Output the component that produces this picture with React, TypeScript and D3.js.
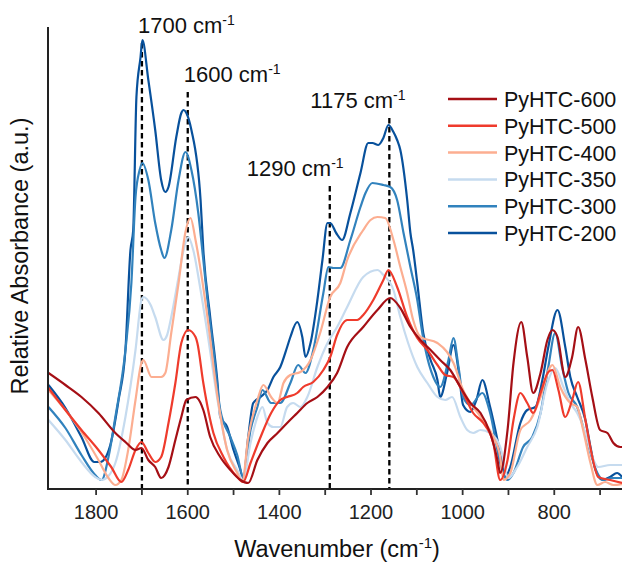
import React from 'react';
import * as d3 from 'd3';

const WIDTH = 622;
const HEIGHT = 562;

// [wavenumber (cm-1), relative absorbance (a.u.)]
const pyhtc600: [number, number][] = [
  [1904,1.16],[1867,1.04],[1832,0.92],[1795,0.76],[1758,0.56],[1736,0.47],[1714,0.39],[1701,0.41],
  [1686,0.29],[1671,0.22],[1658,0.11],[1642,0.22],[1627,0.49],[1614,0.72],[1603,0.89],[1583,0.92],
  [1579,0.91],[1566,0.79],[1551,0.52],[1529,0.32],[1507,0.19],[1485,0.09],[1468,0.06],[1448,0.29],
  [1426,0.46],[1404,0.56],[1383,0.66],[1361,0.76],[1339,0.86],[1317,0.92],[1295,1.02],[1274,1.16],
  [1252,1.42],[1217,1.62],[1186,1.79],[1158,1.91],[1136,1.81],[1114,1.62],[1092,1.49],[1070,1.39],
  [1049,1.29],[1027,1.19],[1005,1.02],[983,0.86],[961,0.76],[940,0.56],[924,0.29],[918,0.16],
  [902,0.59],[889,1.26],[872,1.67],[859,1.32],[846,0.96],[830,1.16],[815,1.49],[804,1.59],
  [793,1.52],[776,1.12],[761,1.32],[748,1.62],[732,1.29],[717,0.92],[700,0.59],[684,0.56],
  [671,0.46],[656,0.42],[652,0.42],
];

const pyhtc500: [number, number][] = [
  [1904,1.01],[1867,0.79],[1832,0.59],[1795,0.39],[1767,0.22],[1745,0.07],[1730,0.19],[1714,0.39],
  [1701,0.47],[1686,0.36],[1671,0.27],[1658,0.32],[1642,0.66],[1627,1.06],[1614,1.46],[1599,1.59],
  [1583,1.52],[1579,1.46],[1566,1.06],[1544,0.56],[1522,0.32],[1492,0.12],[1479,0.07],[1463,0.26],
  [1441,0.52],[1418,0.76],[1398,0.89],[1383,0.92],[1361,0.96],[1348,1.02],[1326,1.07],[1304,1.19],
  [1289,1.32],[1274,1.54],[1252,1.69],[1230,1.69],[1217,1.74],[1195,1.89],[1173,2.09],[1162,2.19],
  [1143,2.02],[1121,1.72],[1099,1.51],[1077,1.39],[1055,1.24],[1038,1.14],[1020,1.12],[999,0.96],
  [977,0.76],[955,0.66],[933,0.46],[918,0.09],[902,0.29],[889,0.69],[874,0.96],[859,0.86],
  [846,0.76],[830,0.96],[813,1.17],[804,1.19],[791,0.99],[776,0.72],[761,0.89],[748,1.07],
  [732,0.69],[717,0.32],[704,0.12],[678,0.09],[652,0.06],
];

const pyhtc400: [number, number][] = [
  [1904,0.99],[1867,0.79],[1832,0.57],[1795,0.29],[1773,0.11],[1758,0.04],[1745,0.09],[1730,0.39],
  [1714,0.89],[1701,1.26],[1697,1.29],[1679,1.12],[1658,1.12],[1649,1.16],[1636,1.56],[1620,2.06],
  [1605,2.57],[1594,2.71],[1583,2.49],[1579,2.39],[1557,1.72],[1535,0.92],[1514,0.39],[1492,0.16],
  [1481,0.07],[1468,0.52],[1448,0.89],[1435,1.04],[1418,0.92],[1404,0.86],[1391,1.06],[1376,1.14],
  [1354,1.17],[1332,1.29],[1311,1.56],[1289,1.92],[1267,2.06],[1252,2.29],[1217,2.59],[1201,2.69],
  [1186,2.72],[1169,2.71],[1151,2.49],[1136,2.22],[1121,1.96],[1108,1.69],[1092,1.52],[1055,1.46],
  [1034,1.37],[1020,1.26],[999,0.99],[977,0.82],[955,0.69],[933,0.52],[918,0.32],[911,0.09],
  [896,0.16],[874,0.59],[852,0.69],[830,0.92],[809,1.22],[804,1.24],[787,1.02],[765,0.86],
  [750,0.82],[737,0.59],[721,0.26],[706,0.04],[689,0.07],[671,0.04],[652,0.05],
];

const pyhtc350: [number, number][] = [
  [1904,0.69],[1867,0.49],[1832,0.27],[1802,0.12],[1788,0.09],[1773,0.13],[1758,0.26],[1736,0.72],
  [1714,1.39],[1701,1.89],[1697,1.92],[1681,1.84],[1671,1.72],[1653,1.49],[1645,1.54],[1636,1.72],
  [1620,2.12],[1609,2.39],[1599,2.52],[1588,2.39],[1572,1.99],[1557,1.56],[1535,0.89],[1514,0.39],
  [1492,0.19],[1479,0.09],[1463,0.46],[1448,0.72],[1437,0.82],[1426,0.66],[1413,0.62],[1398,0.62],
  [1383,0.82],[1370,0.86],[1354,0.82],[1339,0.92],[1317,1.22],[1295,1.46],[1274,1.62],[1252,1.82],
  [1217,2.12],[1186,2.19],[1173,2.14],[1151,1.99],[1136,1.72],[1119,1.46],[1099,1.22],[1077,1.06],
  [1055,0.92],[1038,0.89],[1023,0.92],[1005,0.72],[990,0.59],[977,0.56],[961,0.59],[940,0.56],
  [918,0.42],[900,0.11],[881,0.22],[859,0.42],[837,0.62],[815,1.06],[798,1.21],[780,1.02],
  [765,0.86],[750,0.76],[732,0.56],[717,0.32],[704,0.22],[678,0.24],[652,0.24],
];

const pyhtc300: [number, number][] = [
  [1904,0.82],[1867,0.61],[1832,0.34],[1802,0.14],[1788,0.09],[1773,0.32],[1758,0.72],[1736,1.39],
  [1723,2.06],[1714,2.92],[1705,3.19],[1699,3.26],[1686,3.09],[1671,2.66],[1658,2.39],[1651,2.31],
  [1636,2.59],[1620,3.09],[1605,3.37],[1592,3.19],[1577,2.76],[1566,2.29],[1557,1.89],[1544,1.39],
  [1529,0.79],[1507,0.52],[1492,0.34],[1479,0.12],[1463,0.59],[1448,0.82],[1437,0.99],[1418,0.86],
  [1398,0.86],[1376,1.06],[1359,1.24],[1343,1.16],[1326,1.39],[1304,1.96],[1293,2.22],[1282,2.21],
  [1267,2.21],[1245,2.49],[1223,2.82],[1212,2.96],[1197,3.06],[1173,3.04],[1158,3.02],[1143,2.89],
  [1129,2.56],[1114,2.22],[1099,1.89],[1088,1.56],[1081,1.39],[1064,1.12],[1049,1.02],[1031,1.29],
  [1020,1.51],[1009,1.22],[999,0.92],[983,0.84],[957,0.96],[940,0.76],[918,0.26],[902,0.09],
  [889,0.16],[868,0.42],[848,0.52],[830,0.76],[813,1.22],[798,1.56],[783,1.22],[769,0.96],
  [750,0.82],[737,0.62],[721,0.36],[706,0.16],[693,0.09],[674,0.11],[652,0.11],
];

const pyhtc200: [number, number][] = [
  [1904,1.04],[1867,0.81],[1832,0.52],[1804,0.27],[1791,0.27],[1780,0.31],[1769,0.44],[1751,0.89],
  [1736,1.39],[1725,2.39],[1719,2.59],[1712,3.92],[1703,4.32],[1699,4.49],[1686,4.09],[1671,3.59],
  [1658,3.09],[1649,2.97],[1642,3.02],[1625,3.52],[1614,3.76],[1609,3.79],[1603,3.76],[1592,3.59],
  [1572,2.89],[1566,2.39],[1551,1.72],[1535,1.06],[1529,0.72],[1514,0.62],[1500,0.39],[1485,0.19],
  [1479,0.09],[1468,0.52],[1457,0.86],[1441,0.92],[1426,0.99],[1413,1.12],[1398,1.22],[1383,1.42],
  [1376,1.52],[1361,1.67],[1350,1.52],[1343,1.32],[1332,1.46],[1317,1.89],[1306,2.29],[1295,2.66],
  [1289,2.66],[1276,2.56],[1263,2.49],[1245,2.76],[1223,3.16],[1206,3.46],[1197,3.46],[1184,3.44],
  [1173,3.51],[1162,3.64],[1151,3.57],[1143,3.49],[1136,3.39],[1121,2.89],[1114,2.56],[1108,2.39],
  [1099,2.06],[1086,1.56],[1070,1.29],[1055,1.09],[1049,0.92],[1034,1.16],[1020,1.44],[1009,1.19],
  [999,0.84],[983,0.77],[970,0.89],[957,1.09],[940,0.82],[918,0.36],[907,0.12],[896,0.22],
  [874,0.66],[859,0.79],[841,0.82],[826,1.09],[813,1.42],[793,1.79],[776,1.42],[765,1.12],
  [750,0.92],[732,0.69],[721,0.42],[710,0.19],[695,0.09],[678,0.12],[663,0.16],[652,0.12],
];

const seriesNames = ['PyHTC-600', 'PyHTC-500', 'PyHTC-400', 'PyHTC-350', 'PyHTC-300', 'PyHTC-200'];
const seriesData = [pyhtc600, pyhtc500, pyhtc400, pyhtc350, pyhtc300, pyhtc200];
const seriesColors = ['#a50f15', '#ef3b2c', '#fcae91', '#c6dbef', '#3182bd', '#08519c'];
const drawOrder = [5, 4, 3, 2, 1, 0];

const majorTicks = [1800, 1600, 1400, 1200, 1000, 800];
const minorTicks = [1700, 1500, 1300, 1100, 900, 700];

const markerPositions = [1700, 1600, 1290, 1160];
const markerLabels = ['1700', '1600', '1290', '1175'];

const FONT = '"Liberation Sans", Arial, Helvetica, sans-serif';

export default function App() {
  const x = d3.scaleLinear().domain([1905, 650]).range([48, 623]);
  const y = d3.scaleLinear().domain([0, 4.62]).range([489, 27]);

  const line = d3
    .line<[number, number]>()
    .x((d) => x(d[0]))
    .y((d) => y(d[1]))
    .curve(d3.curveMonotoneX);

  // label layout: [dx from line, baseline y]
  const labelLayout: [number, number][] = [
    [-4, 33],
    [-4, 82],
    [-83, 176],
    [-79, 108],
  ];

  const legendX0 = 448;
  const legendX1 = 497;
  const legendY0 = 99;
  const legendStep = 26.8;

  return (
    <svg
      width={WIDTH}
      height={HEIGHT}
      style={{ position: 'absolute', left: 0, top: 0, background: '#fff' }}
      fontFamily={FONT}
    >
      <defs>
        <clipPath id="plotClip">
          <rect x={48} y={0} width={WIDTH - 48} height={489} />
        </clipPath>
      </defs>

      {/* dashed marker lines */}
      {markerPositions.map((w, i) => (
        <line
          key={'m' + i}
          x1={x(w)}
          x2={x(w)}
          y1={labelLayout[i][1] + 10}
          y2={489}
          stroke="#000"
          strokeWidth={2.3}
          strokeDasharray="5.5,3.5"
        />
      ))}

      {/* spectra */}
      <g clipPath="url(#plotClip)">
        {drawOrder.map((i) => (
          <path
            key={seriesNames[i]}
            d={line(seriesData[i]) || ''}
            fill="none"
            stroke={seriesColors[i]}
            strokeWidth={2.2}
            strokeLinejoin="round"
          />
        ))}
      </g>

      {/* marker labels */}
      {markerPositions.map((w, i) => (
        <text
          key={'ml' + i}
          x={x(w) + labelLayout[i][0]}
          y={labelLayout[i][1]}
          fontSize={22}
          fill="#111"
        >
          {markerLabels[i] + ' cm'}
          <tspan fontSize={14} dy={-8}>-1</tspan>
        </text>
      ))}

      {/* axes */}
      <line x1={48} x2={48} y1={27} y2={490} stroke="#222" strokeWidth={2} />
      <line x1={47} x2={WIDTH} y1={489} y2={489} stroke="#222" strokeWidth={2} />
      {majorTicks.concat(minorTicks).map((t) => (
        <line key={'t' + t} x1={x(t)} x2={x(t)} y1={489} y2={495} stroke="#333" strokeWidth={1.8} />
      ))}
      {majorTicks.map((t) => (
        <text key={'tl' + t} x={x(t)} y={519} fontSize={20} textAnchor="middle" fill="#222">
          {t}
        </text>
      ))}

      {/* axis titles */}
      <text x={337} y={557} fontSize={23.5} textAnchor="middle" fill="#111">
        Wavenumber (cm
        <tspan fontSize={15} dy={-9}>-1</tspan>
        <tspan dy={9}>)</tspan>
      </text>
      <text
        transform="translate(28,256) rotate(-90)"
        fontSize={23.5}
        textAnchor="middle"
        fill="#111"
      >
        Relative Absorbance (a.u.)
      </text>

      {/* legend */}
      {seriesNames.map((name, i) => (
        <g key={'lg' + name}>
          <line
            x1={legendX0}
            x2={legendX1}
            y1={legendY0 + i * legendStep}
            y2={legendY0 + i * legendStep}
            stroke={seriesColors[i]}
            strokeWidth={2.5}
          />
          <text x={504} y={legendY0 + i * legendStep + 8} fontSize={21.5} fill="#111">
            {name}
          </text>
        </g>
      ))}
    </svg>
  );
}
